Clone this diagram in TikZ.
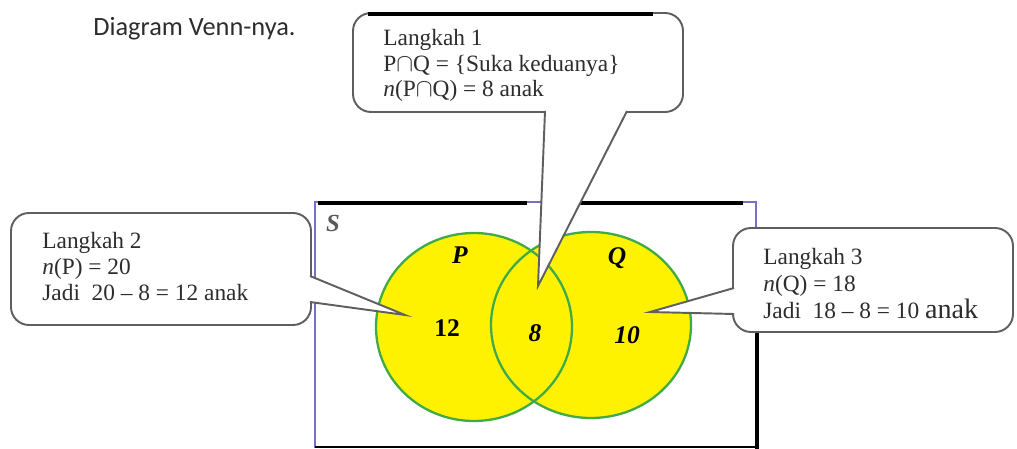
\documentclass[tikz,border=0pt]{standalone}
\usepackage{fontspec}
\setmainfont{Liberation Serif}
\newfontfamily\titlefont{Carlito}
\usepackage{tikz}
\usetikzlibrary{calc}
\definecolor{vennyellow}{RGB}{255,242,0}
\definecolor{venngreen}{RGB}{64,170,72}
\definecolor{framecol}{RGB}{120,112,196}
\definecolor{bubblecol}{RGB}{95,95,95}
\definecolor{textcol}{RGB}{45,45,45}
\tikzstyle{bubble} = [draw=bubblecol,line width=1.1pt,fill=white,rounded corners=0.36cm]
\tikzstyle{pointer} = [draw=bubblecol,line width=1.1pt,line join=miter]
\tikzstyle{langkah} = [anchor=base west,align=left,inner sep=0pt,text=textcol,font=\fontsize{13.3}{14.6}\selectfont]
\tikzstyle{venn} = [draw=venngreen,line width=1.3pt]
\tikzstyle{angka} = [inner sep=0pt,font=\bfseries\fontsize{14.5}{16}\selectfont]
\tikzstyle{scan} = [line width=2.3pt,black]

\begin{document}
\begin{tikzpicture}[x=0.02cm,y=-0.02cm]
    \useasboundingbox (0,0) rectangle (1017,449);
    \node[anchor=base west,inner sep=0pt,text=textcol,font=\titlefont\fontsize{15}{18}\selectfont] (judul) at (93,36) {Diagram Venn-nya.};

    \draw[framecol,line width=1pt] (315,202) rectangle (756,447);
    \draw[scan] (318,203) -- (527,203) (577,203) -- (743,203);
    \draw[line width=0.8pt] (315,447) -- (756,447);
    \draw[line width=2.8pt] (757,329) -- (757,449);
    \node[inner sep=0pt,text=gray!70!black,font=\bfseries\itshape\fontsize{14}{16}\selectfont] (s) at (333,223) {S};

    \fill[vennyellow] (474,327) ellipse [x radius=98,y radius=94];
    \fill[vennyellow] (591,325) ellipse [x radius=100,y radius=93];
    \draw[venn] (474,327) ellipse [x radius=98,y radius=94];
    \draw[venn] (591,325) ellipse [x radius=100,y radius=93];
    \node[angka] (p) at (460,255) {\textit{P}};
    \node[angka] (q) at (617,258) {\textit{Q}};
    \node[angka] (n_p) at (447,328) {12};
    \node[angka] (n_pq) at (535,333) {\textit{8}};
    \node[angka] (n_q) at (627,335) {\textit{10}};

    \draw[bubble] (353,13) rectangle (683,112);
    \draw[scan] (368,14) -- (653,14);
    \coordinate (tip_1) at (538,286);
    \fill[white] (545.5,110) -- (tip_1) -- (626.5,110) -- cycle;
    \draw[pointer] (545,111) -- (tip_1) -- (627,111);
    \node[langkah] (lk_1) at (383,97) {Langkah 1\\P$\cap$Q = \{Suka keduanya\}\\\textit{n}(P$\cap$Q) = 8 anak};

    \draw[bubble] (11,213) rectangle (311,325);
    \coordinate (tip_2) at (405,315);
    \fill[white] (309,276.5) -- (tip_2) -- (309,301.5) -- cycle;
    \draw[pointer] (310,276) -- (tip_2) -- (310,302);
    \node[langkah] (lk_2) at (42,300) {Langkah 2\\\textit{n}(P) = 20\\Jadi\ \ 20 -- 8 = 12 anak};

    \draw[bubble] (733,228) rectangle (1013,332);
    \coordinate (tip_3) at (650,312);
    \fill[white] (735,288.5) -- (tip_3) -- (735,313.5) -- cycle;
    \draw[pointer] (734,288) -- (tip_3) -- (734,314);
    \node[langkah,font=\fontsize{13.3}{15.3}\selectfont] (lk_3) at (763,318) {Langkah 3\\\textit{n}(Q) = 18\\Jadi\ \ 18 -- 8 = 10 {\fontsize{16}{16}\selectfont anak}};
\end{tikzpicture}
\end{document}
